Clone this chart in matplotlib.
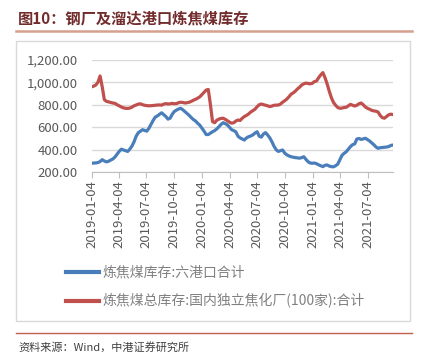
import matplotlib
matplotlib.use("Agg")
import matplotlib.pyplot as plt
import pandas as pd
from matplotlib.lines import Line2D
from matplotlib.patches import Rectangle

plt.rcParams["font.family"] = ["Noto Sans CJK SC", "DejaVu Sans"]

# === Data: weekly, 2019-01-04 .. 2021-09-24 ===
start_date = "2019-01-04"
n_weeks = 143

port_stock = [
    280, 282, 283, 286, 295, 312, 300, 292, 298, 308,
    318, 335, 360, 385, 405, 398, 390, 385, 405, 432,
    470, 520, 551, 565, 578, 572, 565, 590, 625, 660,
    690, 700, 715, 728, 712, 695, 672, 680, 715, 740,
    752, 762, 768, 755, 738, 722, 705, 685, 668, 655,
    635, 618, 592, 565, 535, 535, 548, 560, 570, 585,
    604, 625, 640, 632, 620, 600, 578, 570, 558, 520,
    505, 495, 486, 505, 516, 522, 532, 548, 560, 520,
    512, 540, 552, 530, 505, 470, 430, 400, 385, 392,
    398, 370, 355, 345, 338, 334, 330, 328, 325, 330,
    338, 315, 294, 282, 280, 282, 276, 266, 258, 250,
    262, 265, 255, 250, 248, 258, 272, 310, 350, 368,
    382, 405, 428, 445, 452, 495, 500, 492, 496, 502,
    490, 478, 462, 445, 425, 413, 418, 420, 422, 424,
    428, 438, 442,
]

plant_stock = [
    958, 965, 975, 1000, 1055, 960, 845, 830, 825, 820,
    815, 812, 800, 790, 780, 772, 768, 767, 770, 778,
    790, 798, 805, 808, 800, 795, 792, 790, 791, 793,
    795, 797, 798, 796, 805, 810, 806, 808, 812, 808,
    810, 818, 822, 820, 815, 818, 822, 830, 840, 848,
    858, 870, 890, 910, 930, 935, 800, 650, 640, 662,
    672, 678, 680, 670, 658, 645, 636, 640, 655, 664,
    660, 680, 695, 705, 718, 735, 748, 760, 782, 800,
    806, 800, 795, 790, 783, 788, 795, 796, 797, 805,
    822, 835, 850, 870, 893, 905, 920, 940, 955, 975,
    985, 992, 988, 985, 990, 1005, 1010, 1040, 1065, 1085,
    1040, 985, 920, 862, 820, 795, 775, 768, 770, 775,
    777, 790, 803, 795, 788, 795, 808, 815, 800, 780,
    768, 760, 750, 745, 742, 735, 705, 685, 680, 695,
    710, 716, 712,
]

tick_labels = ["2019-01-04", "2019-04-04", "2019-07-04", "2019-10-04",
               "2020-01-04", "2020-04-04", "2020-07-04", "2020-10-04",
               "2021-01-04", "2021-04-04", "2021-07-04"]

series_names = ["炼焦煤库存:六港口合计", "炼焦煤总库存:国内独立焦化厂(100家):合计"]
title = "图10：钢厂及溜达港口炼焦煤库存"
source = "资料来源：Wind，中港证券研究所"

dates = pd.date_range(start_date, periods=n_weeks, freq="7D")

blue = "#4a7ebb"
red = "#c0504d"
gray_text = "#595959"

# === Figure ===
fig = plt.figure(figsize=(4.28, 3.53), dpi=100)

# title + underline
fig.text(0.042, 0.949, title, fontsize=11, fontweight="bold",
         color="#722c2c", ha="left", va="center")
fig.add_artist(Line2D([0.037, 0.963], [0.912, 0.912], color="#d6a08e", lw=1.8))

# chart frame
fig.add_artist(Rectangle((0.037, 0.091), 0.921, 0.793, fill=False,
                         edgecolor="#d9d9d9", lw=1))

ax = fig.add_axes([0.214, 0.512, 0.704, 0.319])
ax.plot(dates, port_stock, color=blue, lw=2.3, solid_capstyle="round")
ax.plot(dates, plant_stock, color=red, lw=2.3, solid_capstyle="round")

ax.set_ylim(200, 1200)
ax.set_yticks(range(200, 1201, 200))
ax.yaxis.set_major_formatter(plt.FuncFormatter(lambda v, p: f"{v:,.2f}"))
ax.set_xlim(dates[0], dates[-1])
ax.set_xticks(pd.to_datetime(tick_labels))
ax.set_xticklabels(tick_labels, rotation=90)

ax.grid(axis="y", color="#d9d9d9", lw=1)
ax.set_axisbelow(True)
for s in ["top", "right", "left"]:
    ax.spines[s].set_visible(False)
ax.spines["bottom"].set_color("#bfbfbf")
ax.tick_params(axis="y", length=0, pad=10, labelsize=9.5, labelcolor=gray_text)
ax.tick_params(axis="x", length=4, color="#bfbfbf", pad=2,
               labelsize=9.5, labelcolor=gray_text)

# legend
handles = [Line2D([], [], color=blue, lw=3), Line2D([], [], color=red, lw=3)]
fig.legend(handles, series_names, loc="upper left",
           bbox_to_anchor=(0.125, 0.283), frameon=False,
           prop={"size": 10, "weight": "light"},
           labelcolor="#808080", handlelength=2.4, handletextpad=0.2,
           labelspacing=1.0)

# bottom rule + source
fig.add_artist(Line2D([0.037, 0.963], [0.057, 0.057], color="#c0604d", lw=1))
fig.text(0.042, 0.017, source, fontsize=8, color="#404040",
         ha="left", va="center", style="italic")

fig.savefig("out.png", dpi=100)
plt.close(fig)
